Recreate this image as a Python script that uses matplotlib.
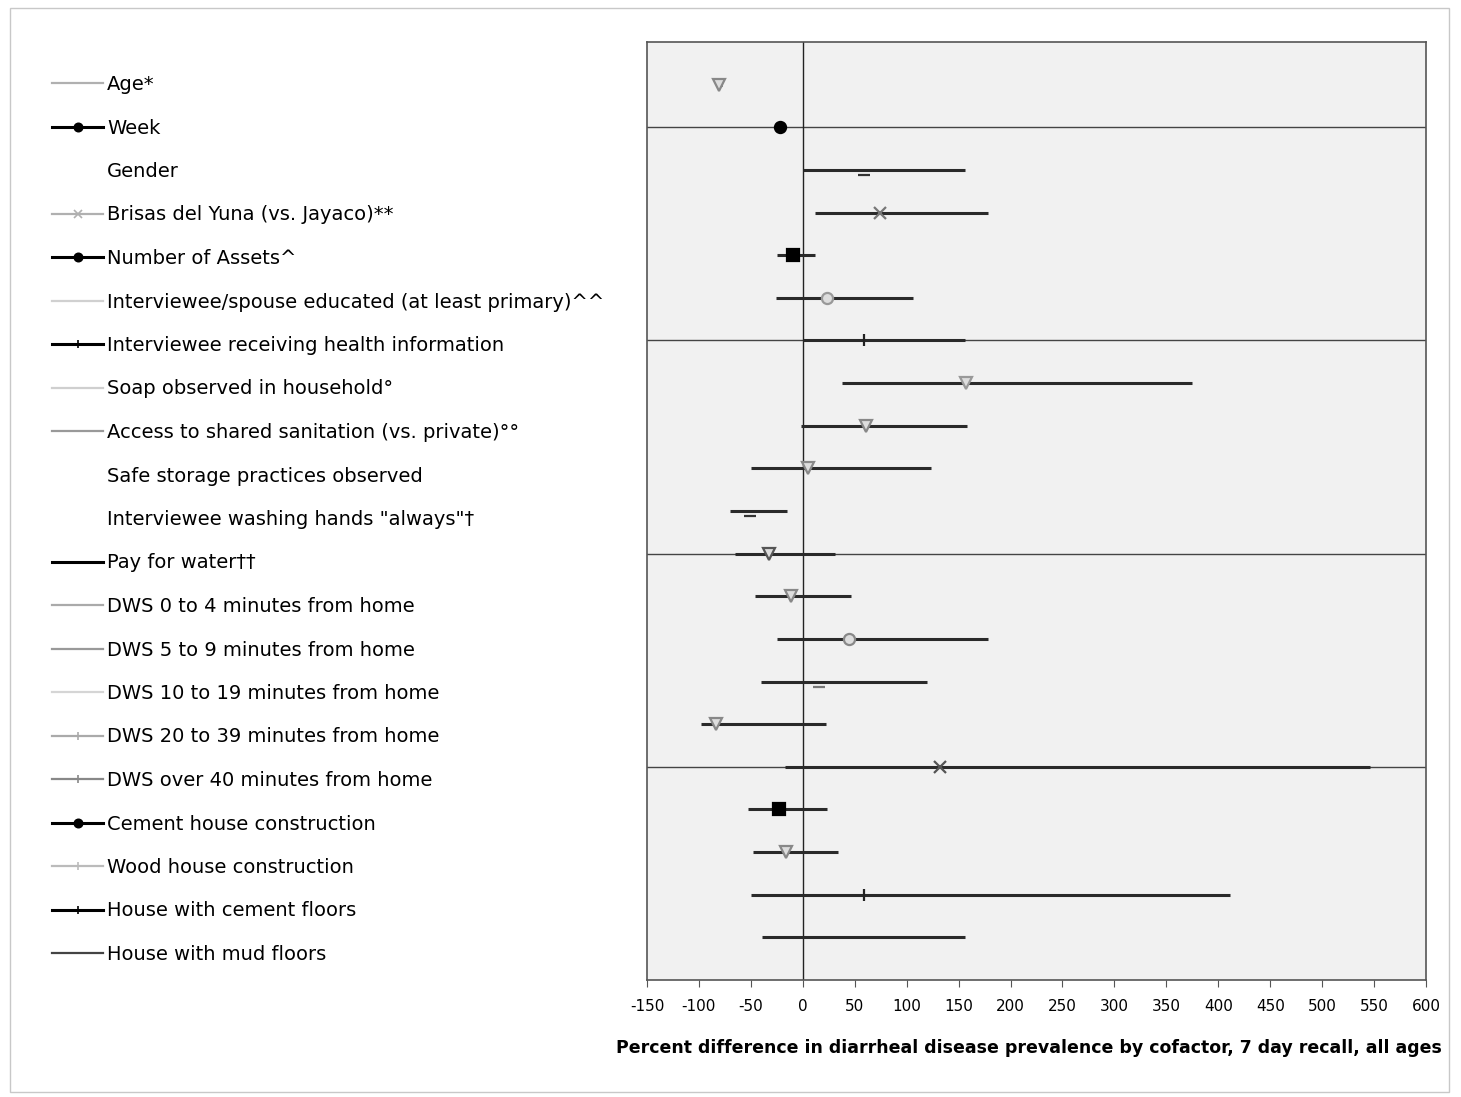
import matplotlib

matplotlib.use("Agg")

import matplotlib.pyplot as plt
from matplotlib.lines import Line2D
from matplotlib.patches import Rectangle

# cofactors, top to bottom
labels = [
    "Age*",
    "Week",
    "Gender",
    "Brisas del Yuna (vs. Jayaco)**",
    "Number of Assets^",
    "Interviewee/spouse educated (at least primary)^^",
    "Interviewee receiving health information",
    "Soap observed in household\u00b0",
    "Access to shared sanitation (vs. private)\u00b0\u00b0",
    "Safe storage practices observed",
    "Interviewee washing hands \"always\"\u2020",
    "Pay for water\u2020\u2020",
    "DWS 0 to 4 minutes from home",
    "DWS 5 to 9 minutes from home",
    "DWS 10 to 19 minutes from home",
    "DWS 20 to 39 minutes from home",
    "DWS over 40 minutes from home",
    "Cement house construction",
    "Wood house construction",
    "House with cement floors",
    "House with mud floors",
]
estimate = [-81, -22, 59, 74, -9, 23, 59, 157, 61, 5, -51, -33,
            -11, 44, 16, -84, 132, -23, -16, 59, 59]
ci_low = [-84, -25, 0, 12, -25, -26, 0, 38, -2, -50, -70, -65,
          -46, -25, -40, -98, -17, -53, -48, -50, -39]
ci_high = [-78, -19, 156, 178, 12, 106, 156, 375, 158, 123, -15, 31,
           46, 178, 120, 22, 546, 23, 34, 411, 156]

# plot marker style and legend handle style per cofactor
markers = ["v", "o", "_", "x", "s", "o", "|", "v", "v", "v", "_", "v",
           "v", "o", "_", "v", "x", "s", "v", "|", ""]
marker_colors = ["#888888", "#000000", "#333333", "#777777", "#000000", "#999999",
                 "#222222", "#999999", "#888888", "#888888", "#333333", "#555555",
                 "#888888", "#888888", "#777777", "#888888", "#555555", "#000000",
                 "#888888", "#222222", "#444444"]
handle_colors = ["#b0b0b0", "#000000", "none", "#b0b0b0", "#000000", "#d0d0d0",
                 "#000000", "#cfcfcf", "#999999", "none", "none", "#000000",
                 "#aaaaaa", "#999999", "#d5d5d5", "#aaaaaa", "#888888", "#000000",
                 "#bbbbbb", "#000000", "#444444"]
handle_markers = ["", "o", "", "x", "o", "", "+", "", "", "", "", "",
                  "", "", "", "+", "+", "o", "+", "+", ""]

x_ticks = list(range(-150, 601, 50))

fig = plt.figure(figsize=(14.61, 10.97), dpi=100)
fig.patches.append(Rectangle((10 / 1461, 5 / 1097), 1439 / 1461, 1084 / 1097,
                             transform=fig.transFigure, fill=False,
                             edgecolor="#c8c8c8", linewidth=1.0))

ax = fig.add_axes([647 / 1461, 117 / 1097, 779 / 1461, 938 / 1097])
ax.set_facecolor("#f1f1f1")

n = len(labels)
ypos = [n - i for i in range(n)]

for i in range(n):
    ax.plot([ci_low[i], ci_high[i]], [ypos[i], ypos[i]], color="#2a2a2a",
            linewidth=2.2, solid_capstyle="butt", zorder=3)
    if markers[i]:
        filled = marker_colors[i] == "#000000"
        ax.plot(estimate[i], ypos[i] - (0.12 if markers[i] == "_" else 0),
                marker=markers[i], markersize=8,
                color=marker_colors[i],
                markerfacecolor=marker_colors[i] if filled else "#dddddd",
                markeredgewidth=1.6, linestyle="none", zorder=4)

for g in [5, 10, 15, 20]:
    ax.axhline(g, color="#444444", linewidth=1.0, zorder=2)
ax.axvline(0, color="#222222", linewidth=1.0, zorder=2)

ax.set_xlim(-150, 600)
ax.set_ylim(0, 22)
ax.set_xticks(x_ticks)
ax.set_xticklabels([str(t) for t in x_ticks], fontsize=11)
ax.set_yticks([])
ax.tick_params(axis="x", direction="out", length=5, color="#555555", pad=9)
for s in ax.spines.values():
    s.set_color("#555555")
    s.set_linewidth(1.2)
ax.set_xlabel("Percent difference in diarrheal disease prevalence by cofactor, 7 day recall, all ages",
              fontsize=12.5, fontweight="bold")
ax.xaxis.set_label_coords(0.49, -0.063)

handles = []
for i in range(n):
    handles.append(Line2D([0], [0], color=handle_colors[i],
                          linewidth=2.2 if handle_colors[i] == "#000000" else 1.6,
                          marker=handle_markers[i] or None, markersize=6,
                          markeredgewidth=1.2))
fig.legend(handles, labels, loc="upper left",
           bbox_to_anchor=(52 / 1461, 1 - 75 / 1097), frameon=False,
           fontsize=14, handlelength=2.63, handletextpad=0.2,
           labelspacing=1.26, borderaxespad=0, borderpad=0)

fig.savefig("out.png", dpi=100)
plt.close(fig)
